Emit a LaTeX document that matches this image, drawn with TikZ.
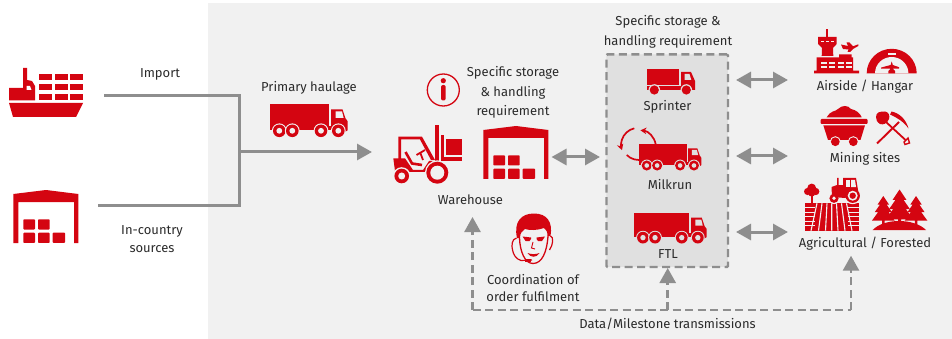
\documentclass[tikz,border=0pt]{standalone}
\usepackage{fontspec}
\setmainfont{Fira Sans}
\usetikzlibrary{arrows.meta}
\definecolor{dred}{HTML}{D40511}
\definecolor{panel}{HTML}{F1F1F1}
\definecolor{boxfill}{HTML}{E0E0E0}
\definecolor{lgray}{HTML}{8E8E8E}
\definecolor{ink}{HTML}{2B2B2B}
\tikzset{
  flow/.style={draw=lgray,line width=3pt},
  dash link/.style={draw=lgray,line width=2.6pt,dash pattern=on 8pt off 4.5pt},
  head/.style={-{Triangle[width=16pt,length=15pt]}},
  both heads/.style={{Triangle[width=16pt,length=15pt]}-{Triangle[width=16pt,length=15pt]}},
  label/.style={text=ink,font=\fontsize{13}{12}\selectfont,inner sep=0pt,align=center},
}
\newcommand\bigtruck[4]{%
\begin{scope}[shift={(#1,#2)},scale=#3]
  \fill[dred] (0,0) rectangle (59.3,25.7);
  \fill[dred] (0,22) rectangle (62,26);
  \fill[dred] (61,5) -- (72.5,5) -- (75.5,14) -- (77.7,17) -- (77.7,26) -- (73,28.7) -- (61,28.7) -- cycle;
  \fill[#4] (65.7,7) -- (72,7) -- (73.6,13.5) -- (65.7,13.5) -- cycle;
  \foreach \wx in {9.3,22.3,51,68.3}{
    \fill[#4] (\wx,26.5) circle (7.4);
    \fill[dred] (\wx,26.5) circle (6.3);
    \fill[#4] (\wx,26.5) circle (2.9);
  }
\end{scope}}
\newcommand\shed[3]{%
\begin{scope}[shift={(#1,#2)}]
  \fill[dred] (13.3,243) -- (13.3,194) -- (46,190) -- (78.3,194) -- (78.3,243) -- (74,243) -- (74,202) -- (18.3,202) -- (18.3,243) -- cycle;
  \foreach \bx/\by/\bw in {23.3/219.3/11.7,38/219.3/11.7,23.3/232.7/11.7,38/232.7/11.7,52.7/232.7/12.3}
    \fill[dred,rounded corners=0.8pt] (\bx,\by) rectangle ++(\bw,10.2);
\end{scope}}
\newcommand\pine[3]{%
\begin{scope}[shift={(#1,#2)},scale=#3]
  \fill[dred] (0,0) -- (6,9) -- (3.5,9) -- (9,17) -- (5.5,17) -- (12,26) -- (1.3,26) -- (1.3,32) -- (-1.3,32) -- (-1.3,26) -- (-12,26) -- (-5.5,17) -- (-9,17) -- (-3.5,9) -- (-6,9) -- cycle;
\end{scope}}
\begin{document}
\begin{tikzpicture}[x=1pt,y=-1pt,line cap=butt]
\useasboundingbox (0,0) rectangle (952,339);
\fill[panel] (208,3) rectangle (952,339);
\fill[white] (0,0) rectangle (952,3);

\node[draw=lgray,fill=boxfill,line width=2.4pt,dash pattern=on 8pt off 4.5pt,minimum width=121.5pt,minimum height=212.5pt,inner sep=0pt,rounded corners=1pt] (box) at (667.2,160.7) {};

\coordinate (impS) at (104,96);
\coordinate (impC) at (239,96);
\coordinate (srcS) at (98,205);
\coordinate (srcC) at (239,205);
\coordinate (jn) at (239,152);
\coordinate (jnE) at (372,152);
\coordinate (whL) at (551.5,157);
\coordinate (whR) at (600,157);
\coordinate (a1L) at (736,80);
\coordinate (a1R) at (788,80);
\coordinate (a2L) at (736,156);
\coordinate (a2R) at (788,156);
\coordinate (a3L) at (736,232);
\coordinate (a3R) at (788,232);
\coordinate (dA) at (472.5,217);
\coordinate (dB) at (472.5,310);
\coordinate (dC) at (851,310);
\coordinate (dD) at (851,255.7);
\coordinate (dM) at (667.7,310);
\coordinate (dT) at (667.7,268);

\draw[flow,line join=miter] (impS) -- (impC) -- (srcC) -- (srcS);
\draw[flow,head] (jn) -- (jnE);
\draw[flow,both heads] (whL) -- (whR);
\draw[flow,both heads] (a1L) -- (a1R);
\draw[flow,both heads] (a2L) -- (a2R);
\draw[flow,both heads] (a3L) -- (a3R);
\draw[dash link,head] (dB) -- (dA);
\draw[dash link,head] (dC) -- (dD);
\draw[dash link] (dB) -- (dC);
\draw[dash link,head] (dM) -- (dT);

% ship
\fill[dred] (9,103) -- (83,103) -- (76,117) -- (13,117) -- cycle;
\fill[dred] (9,100.5) -- (9,88) -- (23,88) -- (23,68) -- (27,68) -- (27,80) -- (32,81) -- (35,86) -- (35,100.5) -- cycle;
\fill[white] (26.5,86) -- (30,86) -- (31.5,90) -- (26.5,90) -- cycle;
\foreach \sx in {39,54.5,70} \foreach \sy in {74,84,94}
  \fill[dred] (\sx,\sy) rectangle ++(13,6.5);

\shed{0}{0}{}
\shed{470}{-64}{}
\bigtruck{270}{104.3}{1}{panel}

% info
\draw[dred,line width=1.3pt] (443.3,90) circle (16);
\fill[dred] (443.3,80.7) circle (2.6);
\fill[dred,rounded corners=2pt] (441,85) rectangle (445.7,100.5);

% forklift
\fill[dred] (435,125) rectangle (438.7,170);
\fill[dred] (441,135) rectangle (444,160.7);
\fill[dred] (441,157.3) rectangle (461.5,160.7);
\fill[dred] (446,139) rectangle (462,155);
\fill[dred] (398.3,136.7) -- (422,136.7) -- (435,160) -- (431,160) -- (420,139.5) -- (401,139.5) -- (401,159) -- (398.3,159) -- cycle;
\fill[dred] (393.3,158.3) -- (405,158.3) -- (413,170) -- (423,170) -- (429,161) -- (436,161) -- (436,166) -- (427,172) -- (406,172) -- (395,171) -- cycle;
\draw[dred,line width=2.6pt] (405.5,152) -- (412,163.5) -- (422,165);
\draw[dred,line width=1.8pt] (416.5,155) -- (425,150) (420,152) -- (423,160);
\fill[panel] (401.7,176) circle (8.8);
\fill[dred] (401.7,176) circle (7.3);
\fill[panel] (401.7,176) circle (3.5);
\fill[panel] (437.3,172.7) circle (12.4);
\fill[dred] (437.3,172.7) circle (11);
\fill[panel] (437.3,172.7) circle (7);

% sprinter
\fill[dred] (647,68.7) rectangle (679.3,85);
\fill[dred] (647,86) rectangle (695,90);
\fill[dred] (681,72) -- (691,72) -- (695,81) -- (695,90) -- (681,90) -- cycle;
\fill[boxfill] (684.5,74) -- (689.5,74) -- (691.3,80) -- (684.5,80) -- cycle;
\foreach \wx in {654.3,686.3}{
  \fill[boxfill] (\wx,90) circle (5.8);
  \fill[dred] (\wx,90) circle (4.6);
}

% milkrun
\bigtruck{639.3}{144.3}{0.8}{boxfill}
\draw[dred,line width=1.7pt,-{Stealth[length=6pt,width=6.5pt]}] (655.7,144.3) arc[start angle=-10,end angle=-85,radius=17];
\draw[dred,line width=1.7pt,-{Stealth[length=6pt,width=6.5pt]}] (634.3,128.3) arc[start angle=-103,end angle=-198,radius=17];
\draw[dred,line width=1.7pt] (626.7,155) arc[start angle=135,end angle=75,radius=17];

% FTL
\bigtruck{634.3}{213}{0.93}{boxfill}

% tower
\fill[dred] (826,29) rectangle (828,37);
\fill[dred] (818,37) -- (836.7,37) -- (836.7,44) -- (833,48) -- (833.3,56) -- (821.7,56) -- (822,48) -- (818,44) -- cycle;
\foreach \wx in {820.5,825.5,830.5} \fill[panel] (\wx,40.7) rectangle ++(3,1.7);
\fill[dred] (816.7,70.7) -- (816.7,57.3) -- (839,57.3) -- (839,54.3) -- (851.7,54.3) -- (851.7,57.3) -- (853,57.3) -- (853,70.7) -- (859,70.7) -- (859,73.3) -- (814,73.3) -- (814,70.7) -- cycle;
\foreach \wx in {821,829.3,838,846} \foreach \wy in {61.7,66}
  \fill[panel] (\wx,\wy) rectangle ++(5.5,2.3);
\fill[dred] (841,44.5) -- (848,46) -- (846.5,42.5) -- (849.5,42.5) -- (853,46.3) -- (858.3,44.3) -- (858.3,46) -- (853,49) -- (850,52) -- (847.5,52) -- (848.5,49.5) -- (843,49) -- cycle;
% hangar
\fill[dred] (866.7,73.3) arc[start angle=180,end angle=360,x radius=25,y radius=24.5] -- cycle;
\fill[panel] (875,73.3) arc[start angle=180,end angle=360,x radius=16.7,y radius=16.3] -- cycle;
\fill[panel] (887.5,53.5) rectangle (895.5,55.2);
\fill[dred] (891.7,61.5) -- (892.8,65) -- (899,67.2) -- (899,68.6) -- (892.8,68.6) -- (895,71) -- (895,73.3) -- (888.4,73.3) -- (888.4,71) -- (890.6,68.6) -- (881,68.6) -- (881,67.6) -- (890.6,65) -- cycle;

% mining cart
\fill[dred] (826.7,117.3) .. controls (831,110) and (835,112) .. (838,109) .. controls (842,105) and (848,105) .. (851,109) .. controls (856,110) and (860,113) .. (861.7,117.3) -- cycle;
\fill[dred,rounded corners=1pt] (820.7,119) rectangle (867.7,124);
\fill[dred] (823.3,125.3) -- (865,125.3) -- (860.5,140) -- (828,140) -- cycle;
\foreach \wx in {835.3,853.3}{
  \fill[panel] (\wx,141.7) circle (5.5);
  \fill[dred] (\wx,141.7) circle (4.4);
}
% pick and shovel
\draw[dred,line width=1.8pt] (886,122) -- (905.5,140);
\fill[dred] (876,117) .. controls (876,112) and (880,111.5) .. (885,111.5) .. controls (889,112) and (890,116) .. (889,119) .. controls (887,124) and (883,125) .. (880,124) .. controls (877,122) and (876,120) .. (876,117) -- cycle;
\draw[dred,line width=1.4pt] (904,142) -- (908,138) -- (909.5,143) -- (905,144.5) -- cycle;
\draw[dred,line width=1.9pt] (877,143.5) -- (899,122);
\fill[dred] (891.5,111.5) .. controls (899,113) and (906,119) .. (908.5,128.5) .. controls (904,122) and (897,117.5) .. (890,114.5) -- cycle;

% farm
\fill[dred] (811.1,195) rectangle (812.5,203.3);
\fill[dred] (811.7,188) circle (4.4);
\fill[dred] (807.6,191.5) circle (3.6);
\fill[dred] (815.8,191.5) circle (3.6);
\fill[dred] (811.7,193) circle (3.6);
\fill[dred] (805,203.3) rectangle (858.5,230.7);
\foreach \fy in {207.5,212,216.5,221,225.5}{
  \draw[panel,line width=0.9pt] (805,\fy) -- (815,\fy);
  \draw[panel,line width=0.9pt] (848,\fy) -- (858.5,\fy);
}
\draw[panel,line width=1.1pt] (817,203.3) -- (811,230.7) (822,203.3) -- (818.5,230.7) (827,203.3) -- (825.5,230.7) (831.7,203.3) -- (831.7,230.7) (836.5,203.3) -- (838,230.7) (841.5,203.3) -- (845,230.7) (846.5,203.3) -- (852,230.7);
% tractor
\fill[panel] (834,198.3) circle (5.8);
\fill[panel] (852.7,195.7) circle (8.5);
\fill[dred] (837,178) -- (838.5,178) -- (838.5,185) -- (843,185) -- (843,178) -- (856,178) -- (858,190) -- (858,193) -- (845,198) -- (832,197) -- (831.5,187) -- (837,185) -- cycle;
\fill[panel] (846,180) -- (849.5,180) -- (849.5,187) -- (846,187) -- cycle;
\fill[panel] (851,180) -- (855,180) -- (856,187) -- (851,187) -- cycle;
\fill[dred] (834,198.3) circle (4.6);
\fill[panel] (834,198.3) circle (1.9);
\fill[dred] (852.7,195.7) circle (7.2);
\fill[panel] (852.7,195.7) circle (5);
\fill[dred] (852.7,195.7) circle (3.2);

% forest
\fill[dred] (872.7,230) .. controls (884,218) and (914,218) .. (926,230) -- cycle;
\pine{883.3}{196}{0.95}
\pine{916}{196}{0.95}
\pine{899.5}{189.5}{1.15}

% face
\fill[dred] (517,238) .. controls (513.5,222) and (521,213.5) .. (534,213.5) .. controls (547,213.5) and (553,222) .. (550.5,236) -- (547.5,236) .. controls (547.5,232) and (546.5,229.5) .. (544,228) .. controls (537,230.5) and (530,230.5) .. (525,229) .. controls (522,231) and (520,233) .. (520,238) -- cycle;
\draw[dred,line width=1.3pt] (519.5,238) .. controls (520,252) and (525,263.5) .. (533,263.5) .. controls (542,263.5) and (547,252) .. (548,236);
\draw[dred,line width=1.2pt] (516.5,238) .. controls (511.5,239) and (511.5,246) .. (512.5,250) .. controls (513.5,255) and (516,259) .. (521,260.5) -- (532,260);
\fill[dred] (524.5,259) rectangle (531,261.5);
\draw[dred,line width=1.2pt] (550.5,236) .. controls (554,237) and (553,245) .. (549.5,250);
\fill[dred] (522.5,236.5) -- (531,237.5) -- (531,239) -- (529.5,241) -- (525.5,241) -- cycle;
\fill[dred] (545,236.5) -- (536.5,237.5) -- (536.5,239) -- (538,241) -- (542,241) -- cycle;
\draw[dred,line width=0.9pt] (533,242) -- (531.5,248) -- (535,249);
\fill[dred] (527.5,253) .. controls (531,254.5) and (536,254.5) .. (539.5,253) .. controls (537,258) and (530,258) .. (527.5,253) -- cycle;

% texts
\node[label] (tImport) at (160,74) {Import};
\node[label] (tInCountry) at (152,239) {In-country\\[6pt]sources};
\node[label] (tPrimary) at (309,88) {Primary haulage};
\node[label] (tSpec) at (513,92.5) {Specific storage\\[5.5pt]\&~handling\\[5.5pt]requirement};
\node[label] (tWarehouse) at (470.5,200) {Warehouse};
\node[label] (tSpecTwo) at (668,32) {Specific storage \&\\[6pt]handling requirement};
\node[label] (tSprinter) at (667.5,107) {Sprinter};
\node[label] (tMilkrun) at (670,185) {Milkrun};
\node[label] (tFTL) at (668,254) {FTL};
\node[label] (tAirside) at (865,87) {Airside / Hangar};
\node[label] (tMining) at (865,159) {Mining sites};
\node[label] (tAgri) at (865,244) {Agricultural / Forested};
\node[label] (tCoord) at (533,288.5) {Coordination of\\[5pt]order fulfilment};
\node[label] (tData) at (667.5,324) {Data/Milestone transmissions};
\end{tikzpicture}
\end{document}
